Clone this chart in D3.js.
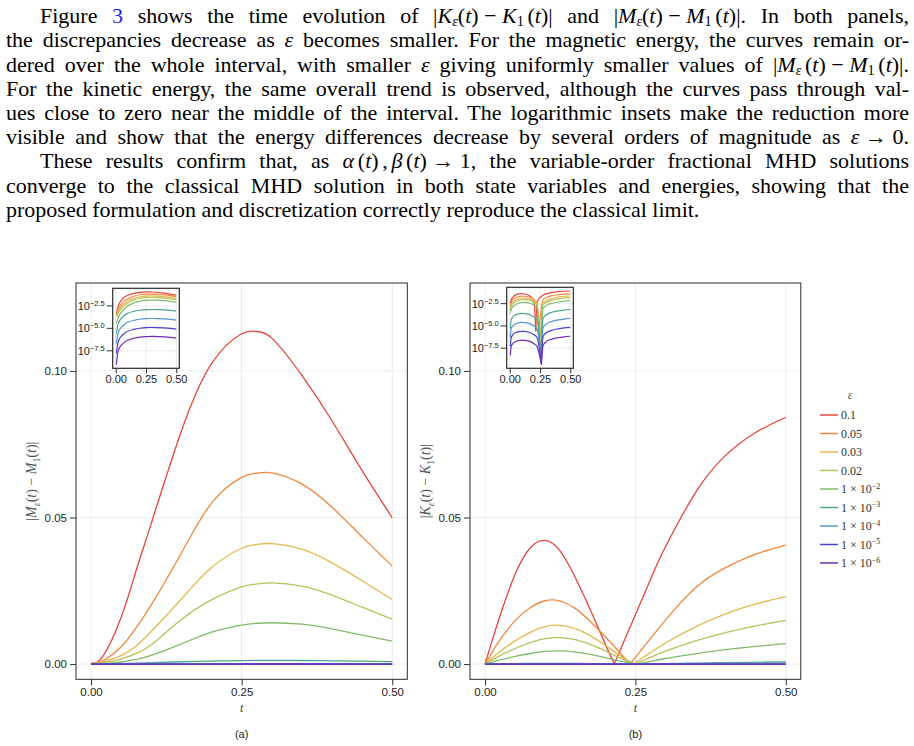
<!DOCTYPE html>
<html>
<head>
<meta charset="utf-8">
<script src="https://cdn.jsdelivr.net/npm/d3@7/dist/d3.min.js"></script>
<style>
  body { margin: 0; background: #fff; width: 914px; height: 746px; overflow: hidden; position: relative; }
  .ln { position: absolute; left: 6px; width: 903px; height: 24px; font-family: "Liberation Serif", serif; font-size: 22px;
        line-height: 24px; color: #000; text-align: justify; text-align-last: justify; }
  .ln.last { text-align-last: left; }
  .ln i { font-style: italic; }
  .ln .m { white-space: nowrap; }
  .ln sub { font-size: 65%; vertical-align: -0.2em; line-height: 0; }
  .ln .ref { color: #1f1fff; }
  svg { position: absolute; left: 0; top: 0; }
  .tick text { font-family: "Liberation Sans", Arial, sans-serif; fill: #222; }
  .tick line { stroke: #333; }
</style>
</head>
<body>
<div class="ln" style="top:4px; left:40px; width:869px">Figure <span class="ref">3</span> shows the time evolution of <span class="m">|<i>K</i><sub><i>ε</i></sub>(<i>t</i>)&#8197;−&#8197;<i>K</i><sub>1</sub>&#8198;(<i>t</i>)|</span> and <span class="m">|<i>M</i><sub><i>ε</i></sub>(<i>t</i>)&#8197;−&#8197;<i>M</i><sub>1</sub>&#8198;(<i>t</i>)|.</span> In both panels,</div>
<div class="ln" style="top:28px">the discrepancies decrease as <i>ε</i> becomes smaller. For the magnetic energy, the curves remain or-</div>
<div class="ln" style="top:53px">dered over the whole interval, with smaller <i>ε</i> giving uniformly smaller values of <span class="m">|<i>M</i><sub><i>ε</i></sub>&#8198;(<i>t</i>)&#8197;−&#8197;<i>M</i><sub>1</sub>&#8198;(<i>t</i>)|.</span></div>
<div class="ln" style="top:77px">For the kinetic energy, the same overall trend is observed, although the curves pass through val-</div>
<div class="ln" style="top:101px">ues close to zero near the middle of the interval. The logarithmic insets make the reduction more</div>
<div class="ln" style="top:125px">visible and show that the energy differences decrease by several orders of magnitude as <span class="m"><i>ε</i>&#8197;→&#8197;0.</span></div>
<div class="ln" style="top:149px; left:40px; width:869px">These results confirm that, as <span class="m"><i>α</i>&#8198;(<i>t</i>)&#8198;,&#8198;<i>β</i>&#8198;(<i>t</i>)&#8197;→&#8197;1,</span> the variable-order fractional MHD solutions</div>
<div class="ln" style="top:174px">converge to the classical MHD solution in both state variables and energies, showing that the</div>
<div class="ln last" style="top:198px">proposed formulation and discretization correctly reproduce the classical limit.</div>

<script>
// ---- data ----
const tMag = [0, 0.005, 0.02, 0.05, 0.075, 0.1, 0.15, 0.2, 0.25, 0.275, 0.3, 0.35, 0.4, 0.45, 0.5];

const magEps0_1  = [0, 4.0e-4, 2.8e-3, 0.016, 0.032, 0.048, 0.0795, 0.1025, 0.1127, 0.1134, 0.1112, 0.0985, 0.083, 0.066, 0.0499];
const magEps0_05 = [0, 3.0e-4, 1.2e-3, 0.0059, 0.0124, 0.0202, 0.0379, 0.0549, 0.0637, 0.0651, 0.0652, 0.0614, 0.0535, 0.0434, 0.0334];
const magEps0_03 = [0, 2.5e-4, 8.0e-4, 0.0029, 0.0062, 0.0111, 0.0222, 0.0329, 0.0395, 0.0408, 0.0411, 0.0392, 0.0345, 0.0284, 0.0220];
const magEps0_02 = [0, 2.0e-4, 5.0e-4, 0.0017, 0.0036, 0.0066, 0.0152, 0.0219, 0.0263, 0.0273, 0.0277, 0.0266, 0.0235, 0.0194, 0.0153];
const magEps1e2  = [0, 3.5e-5, 1.6e-4, 7.0e-4, 0.0016, 0.0030, 0.0069, 0.0109, 0.0133, 0.0139, 0.0141, 0.0136, 0.0120, 0.0099, 0.0078];
const magEps1e3  = [0, 2.5e-6, 3.1e-5, 1.5e-4, 3.1e-4, 4.8e-4, 7.8e-4, 1.03e-3, 1.20e-3, 1.24e-3, 1.25e-3, 1.22e-3, 1.12e-3, 9.9e-4, 8.3e-4];
const magEps1e4  = [0, 2.0e-7, 3.1e-6, 1.5e-5, 3.1e-5, 4.8e-5, 7.8e-5, 1.03e-4, 1.20e-4, 1.24e-4, 1.25e-4, 1.22e-4, 1.12e-4, 9.9e-5, 8.3e-5];
const magEps1e5  = [0, 1.6e-8, 3.1e-7, 1.5e-6, 3.1e-6, 4.8e-6, 7.8e-6, 1.03e-5, 1.20e-5, 1.24e-5, 1.25e-5, 1.22e-5, 1.12e-5, 9.9e-6, 8.3e-6];
const magEps1e6  = [0, 9.0e-10, 3.1e-8, 1.5e-7, 3.1e-7, 4.8e-7, 7.8e-7, 1.03e-6, 1.20e-6, 1.24e-6, 1.25e-6, 1.22e-6, 1.12e-6, 9.9e-7, 8.3e-7];

const tKin = [0, 0.005, 0.0125, 0.025, 0.05, 0.075, 0.1, 0.125, 0.15, 0.175, 0.2, 0.225, 0.275, 0.3, 0.35, 0.4, 0.45, 0.5];

const kinEps0_1  = [0, 0.0034, 0.0085, 0.0165, 0.0306, 0.0396, 0.0422, 0.0385, 0.0295, 0.0185, 0.0068, 0.0049, 0.0288, 0.0400, 0.0585, 0.0712, 0.0790, 0.0842];
const kinEps0_05 = [0, 0.0017, 0.0043, 0.0083, 0.0148, 0.0192, 0.0216, 0.0215, 0.0190, 0.0145, 0.0093, 0.0037, 0.0087, 0.0150, 0.0260, 0.0329, 0.0375, 0.0406];
const kinEps0_03 = [0, 0.0009, 0.0022, 0.0043, 0.0079, 0.0108, 0.0128, 0.0132, 0.0121, 0.0097, 0.0064, 0.0028, 0.0039, 0.0072, 0.0127, 0.0171, 0.0205, 0.0230];
const kinEps0_02 = [0, 0.0006, 0.0015, 0.0029, 0.0053, 0.0073, 0.0087, 0.0090, 0.0083, 0.0067, 0.0045, 0.0020, 0.0023, 0.0044, 0.0079, 0.0107, 0.0130, 0.0149];
const kinEps1e2  = [0, 0.0003, 0.0007, 0.0014, 0.0026, 0.0036, 0.0043, 0.0045, 0.0041, 0.0033, 0.0022, 0.0010, 0.0009, 0.0019, 0.0035, 0.0049, 0.0060, 0.0070];
const kinEps1e3  = [0, 5e-6, 5e-5, 1.0e-4, 1.8e-4, 2.3e-4, 2.5e-4, 2.4e-4, 2.1e-4, 1.6e-4, 1.0e-4, 5e-5, 7e-5, 1.7e-4, 3.4e-4, 4.8e-4, 6.0e-4, 7.0e-4];
const kinEps1e4  = [0, 5e-7, 5e-6, 1.0e-5, 1.8e-5, 2.3e-5, 2.5e-5, 2.4e-5, 2.1e-5, 1.6e-5, 1.0e-5, 5e-6, 6e-6, 1.6e-5, 3.3e-5, 4.7e-5, 5.9e-5, 6.9e-5];
const kinEps1e5  = [0, 5e-8, 5e-7, 1.0e-6, 1.8e-6, 2.3e-6, 2.5e-6, 2.4e-6, 2.1e-6, 1.6e-6, 1.0e-6, 5e-7, 6e-7, 1.6e-6, 3.3e-6, 4.7e-6, 5.9e-6, 6.9e-6];
const kinEps1e6  = [0, 5e-9, 5e-8, 1.0e-7, 1.8e-7, 2.3e-7, 2.5e-7, 2.4e-7, 2.1e-7, 1.6e-7, 1.0e-7, 5e-8, 6e-8, 1.6e-7, 3.3e-7, 4.7e-7, 5.9e-7, 6.9e-7];

// where each kinetic curve touches zero (t, value at the touch point)
const kinDipT = [0.215, 0.241, 0.247, 0.25, 0.253, 0.258, 0.26, 0.261, 0.262];
const kinDipV = [2.5e-6, 3e-6, 1e-8, 1e-8, 5e-9, 2e-9, 1e-9, 6e-10, 4.5e-10];

const epsLabels = ['0.1', '0.05', '0.03', '0.02', '1 × 10^−2', '1 × 10^−3', '1 × 10^−4', '1 × 10^−5', '1 × 10^−6'];
const epsColors = ['#e5463a', '#f0883e', '#e4b94d', '#b4c35a', '#80bb6b', '#4ea596', '#5694d4', '#4743cf', '#6c2bbd'];

const tTicks = [0, 0.25, 0.5];
const yTicks = [0, 0.05, 0.1];
const insetTicks = [-2.5, -5, -7.5];   // log10 exponents
const T_LIMITS = [-0.025, 0.525];
const Y_LIMITS = [-0.0052, 0.13];

const magSeries = [magEps0_1, magEps0_05, magEps0_03, magEps0_02, magEps1e2, magEps1e3, magEps1e4, magEps1e5, magEps1e6];
const kinSeries = [kinEps0_1, kinEps0_05, kinEps0_03, kinEps0_02, kinEps1e2, kinEps1e3, kinEps1e4, kinEps1e5, kinEps1e6];

const svg = d3.select('body').append('svg').attr('width', 914).attr('height', 746);

// split a curve at the point where it touches zero, so the cusp stays sharp
function pieces (t, vals, dipT, dipV) {
  const pts = t.map((tt, j) => ({ t: tt, v: vals[j] }));
  if (dipT === undefined) return [pts];
  pts.push({ t: dipT, v: dipV });
  pts.sort((a, b) => a.t - b.t);
  return [pts.filter(p => p.t <= dipT), pts.filter(p => p.t >= dipT)];
}

function mathText (sel, parts, size) {
  parts.forEach(p => {
    const ts = sel.append('tspan').text(p.s);
    if (p.i) ts.attr('font-style', 'italic');
    if (p.sub) ts.attr('font-size', size * 0.7).attr('dy', size * 0.25);
    if (p.back) ts.attr('dy', -size * 0.25);
  });
}

function drawPanel (o) {
  const x = d3.scaleLinear().domain(T_LIMITS).range([o.left, o.right]);
  const y = d3.scaleLinear().domain(Y_LIMITS).range([o.bottom, o.top]);
  const g = svg.append('g');

  g.append('rect').attr('x', o.left).attr('y', o.top)
    .attr('width', o.right - o.left).attr('height', o.bottom - o.top).attr('fill', '#fff');

  g.selectAll('line.gx').data(tTicks).join('line').attr('class', 'gx')
    .attr('x1', d => x(d)).attr('x2', d => x(d)).attr('y1', o.top).attr('y2', o.bottom)
    .attr('stroke', '#ebebeb');
  g.selectAll('line.gy').data(yTicks).join('line').attr('class', 'gy')
    .attr('y1', d => y(d)).attr('y2', d => y(d)).attr('x1', o.left).attr('x2', o.right)
    .attr('stroke', '#ebebeb');

  const line = d3.line().x(d => x(d.t)).y(d => y(d.v)).curve(d3.curveNatural);
  o.series.forEach((vals, i) => {
    const dT = o.dipT ? o.dipT[i] : undefined, dV = o.dipV ? o.dipV[i] : undefined;
    pieces(o.t, vals, dT, dV).forEach(p => {
      g.append('path').datum(p).attr('d', line)
        .attr('fill', 'none').attr('stroke', epsColors[i]).attr('stroke-width', 1.3);
    });
  });

  g.append('rect').attr('x', o.left).attr('y', o.top)
    .attr('width', o.right - o.left).attr('height', o.bottom - o.top)
    .attr('fill', 'none').attr('stroke', '#2a2a2a').attr('stroke-width', 1);

  g.append('g').attr('transform', `translate(${o.left},0)`)
    .call(d3.axisLeft(y).tickValues(yTicks).tickFormat(d3.format('.2f')).tickSize(6).tickPadding(3))
    .call(a => a.select('.domain').remove())
    .selectAll('text').attr('font-size', 11.5);
  g.append('g').attr('transform', `translate(0,${o.bottom})`)
    .call(d3.axisBottom(x).tickValues(tTicks).tickFormat(d3.format('.2f')).tickSize(6).tickPadding(3))
    .call(a => a.select('.domain').remove())
    .selectAll('text').attr('font-size', 11.5);

  const cx = (o.left + o.right) / 2;
  g.append('text').attr('x', cx).attr('y', o.bottom + 33).attr('text-anchor', 'middle')
    .attr('font-family', '"Liberation Serif", serif').attr('font-style', 'italic')
    .attr('font-size', 12).attr('fill', '#444').text('t');
  g.append('text').attr('x', cx).attr('y', o.bottom + 59).attr('text-anchor', 'middle')
    .attr('font-family', '"Liberation Sans", Arial, sans-serif').attr('font-size', 11)
    .attr('fill', '#222').text(o.caption);

  const cy = (o.top + o.bottom) / 2;
  const lab = g.append('text')
    .attr('transform', `translate(${o.yLabelX},${cy}) rotate(-90)`)
    .attr('text-anchor', 'middle').attr('font-family', '"Liberation Serif", serif')
    .attr('font-size', 14).attr('fill', '#555');
  const L = o.letter;
  mathText(lab, [
    { s: '|' }, { s: L, i: 1 }, { s: 'ε', i: 1, sub: 1 }, { s: '(', back: 1 }, { s: 't', i: 1 },
    { s: ') − ' }, { s: L, i: 1 }, { s: '1', sub: 1 }, { s: '(', back: 1 }, { s: 't', i: 1 }, { s: ')|' }
  ], 14);

  drawInset(o);
}

function drawInset (o) {
  const b = o.inset;
  const all = [];
  o.series.forEach(v => v.forEach(d => { if (d > 0) all.push(Math.log10(d)); }));
  if (o.dipV) o.dipV.forEach(d => all.push(Math.log10(d)));
  const ext = d3.extent(all), pad = (ext[1] - ext[0]) * 0.05;

  const x = d3.scaleLinear().domain(T_LIMITS).range([b.left, b.right]);
  const y = d3.scaleLog().domain([10 ** (ext[0] - pad), 10 ** (ext[1] + pad)]).range([b.bottom, b.top]);
  const g = svg.append('g');
  const clipId = 'clip' + o.caption.replace(/\W/g, '');
  g.append('clipPath').attr('id', clipId).append('rect')
    .attr('x', b.left).attr('y', b.top).attr('width', b.right - b.left).attr('height', b.bottom - b.top);

  g.append('rect').attr('x', b.left).attr('y', b.top)
    .attr('width', b.right - b.left).attr('height', b.bottom - b.top).attr('fill', '#fff');
  g.selectAll('line.gx').data(tTicks).join('line').attr('class', 'gx')
    .attr('x1', d => x(d)).attr('x2', d => x(d)).attr('y1', b.top).attr('y2', b.bottom).attr('stroke', '#ebebeb');
  g.selectAll('line.gy').data(insetTicks).join('line').attr('class', 'gy')
    .attr('y1', d => y(10 ** d)).attr('y2', d => y(10 ** d)).attr('x1', b.left).attr('x2', b.right).attr('stroke', '#ebebeb');

  const line = d3.line().x(d => x(d.t)).y(d => y(d.v)).curve(d3.curveMonotoneX);
  const lg = g.append('g').attr('clip-path', `url(#${clipId})`);
  o.series.forEach((vals, i) => {
    const dT = o.dipT ? o.dipT[i] : undefined, dV = o.dipV ? o.dipV[i] : undefined;
    pieces(o.t, vals, dT, dV).forEach(p => {
      lg.append('path').datum(p.filter(d => d.v > 0)).attr('d', line)
        .attr('fill', 'none').attr('stroke', epsColors[i]).attr('stroke-width', 1.2);
    });
  });

  g.append('rect').attr('x', b.left).attr('y', b.top)
    .attr('width', b.right - b.left).attr('height', b.bottom - b.top)
    .attr('fill', 'none').attr('stroke', '#2a2a2a').attr('stroke-width', 1.2);

  g.append('g').attr('transform', `translate(0,${b.bottom})`)
    .call(d3.axisBottom(x).tickValues(tTicks).tickFormat(d3.format('.2f')).tickSize(5).tickPadding(2))
    .call(a => a.select('.domain').remove())
    .selectAll('text').attr('font-size', 11);

  const yt = g.append('g').selectAll('g').data(insetTicks).join('g')
    .attr('transform', d => `translate(${b.left},${y(10 ** d)})`);
  yt.append('line').attr('x1', -6).attr('x2', 0).attr('stroke', '#333');
  const tx = yt.append('text').attr('x', -8).attr('dy', '0.35em').attr('text-anchor', 'end')
    .attr('font-family', '"Liberation Sans", Arial, sans-serif').attr('fill', '#222').attr('font-size', 11);
  tx.append('tspan').text('10');
  tx.append('tspan').attr('font-size', 7.5).attr('dy', -4).text(d => d3.format('.1f')(d).replace('-', '−'));
}

drawPanel({
  left: 76, right: 407.3, top: 283, bottom: 679.3,
  t: tMag, series: magSeries, letter: 'M', yLabelX: 36, caption: '(a)',
  inset: { left: 112.7, right: 179.3, top: 288.3, bottom: 368.3 }
});
drawPanel({
  left: 470, right: 800.8, top: 283, bottom: 679.3,
  t: tKin, series: kinSeries, dipT: kinDipT, dipV: kinDipV, letter: 'K', yLabelX: 430, caption: '(b)',
  inset: { left: 506.7, right: 573.3, top: 287.3, bottom: 368.3 }
});

// legend
const leg = svg.append('g').attr('font-family', '"Liberation Serif", serif');
leg.append('text').attr('x', 850).attr('y', 399).attr('text-anchor', 'middle')
  .attr('font-style', 'italic').attr('font-size', 12).attr('fill', '#555').text('ε');
const item = leg.selectAll('g.item').data(epsLabels).join('g').attr('class', 'item')
  .attr('transform', (d, i) => `translate(820,${415 + i * 18.5})`);
item.append('line').attr('x1', 0).attr('x2', 18).attr('stroke', (d, i) => epsColors[i]).attr('stroke-width', 1.5);
const it = item.append('text').attr('x', 21).attr('dy', '0.35em').attr('font-size', 12).attr('fill', '#333');
it.append('tspan').text(d => d.split('^')[0]);
it.filter(d => d.includes('^')).append('tspan').attr('font-size', 8).attr('dy', -4.5).text(d => d.split('^')[1]);
</script>
</body>
</html>
